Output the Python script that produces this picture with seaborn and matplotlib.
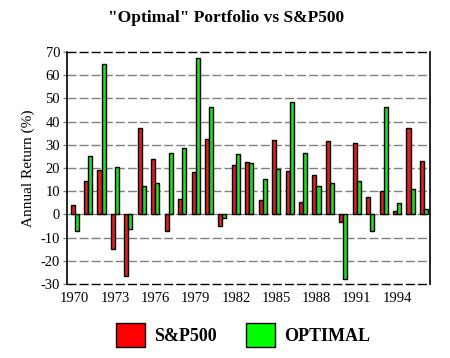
import matplotlib
matplotlib.use("Agg")
import matplotlib.pyplot as plt
import seaborn as sns
import pandas as pd
from matplotlib.patches import Patch

years = list(range(1970, 1997))
sp500 = [4.0, 14.3, 19.0, -14.7, -26.5, 37.2, 23.8, -7.2, 6.6, 18.4, 32.4, -4.9, 21.4, 22.5,
         6.3, 32.2, 18.5, 5.2, 16.8, 31.5, -3.2, 30.6, 7.7, 10.0, 1.3, 37.4, 23.1]
optimal = [-7.0, 25.2, 64.8, 20.4, -6.1, 12.2, 13.5, 26.5, 28.7, 67.4, 46.1, -1.7, 26.1, 22.2,
           15.2, 19.6, 48.3, 26.5, 12.2, 13.5, -27.8, 14.3, -7.0, 46.1, 4.8, 10.9, 2.2]
series_names = ["S&P500", "OPTIMAL"]
colors = ["#FF0000", "#00FF00"]
xtick_years = list(range(1970, 1995, 3))

df = pd.DataFrame({
    "year": years * 2,
    "value": sp500 + optimal,
    "series": [series_names[0]] * len(years) + [series_names[1]] * len(years),
})

sns.set_style("white")
plt.rcParams["font.family"] = ["Liberation Serif", "DejaVu Serif"]
plt.rcParams["text.color"] = "black"
plt.rcParams["axes.labelcolor"] = "black"
plt.rcParams["xtick.color"] = "black"
plt.rcParams["ytick.color"] = "black"

W, H = 450, 358
fig = plt.figure(figsize=(W / 100, H / 100), dpi=100)
ax = fig.add_axes([67 / W, 1 - 284 / H, (430 - 67) / W, (284 - 52) / H])

sns.barplot(data=df, x="year", y="value", hue="series", palette=colors,
            hue_order=series_names, edgecolor="black", linewidth=1.0,
            width=0.6, legend=False, ax=ax, zorder=3)

ax.set_ylim(-30, 70)
ax.set_xlim(-0.57, 26.45)
ax.set_yticks(range(-30, 71, 10))
ax.set_yticklabels([str(v) for v in range(-30, 71, 10)], fontsize=10.5)
ax.set_xticks([years.index(y) for y in xtick_years])
ax.set_xticklabels([str(y) for y in xtick_years], fontsize=10.5)
ax.tick_params(axis="x", length=0, pad=6, labelcolor="black")
ax.tick_params(axis="y", length=3, width=1, color="#808080", pad=2, left=True,
               labelcolor="black")

for v in range(-20, 70, 10):
    ax.axhline(v, color="#808080", lw=1.0, dashes=(6.5, 2.2), zorder=1)
for v in (-30, 70):
    ax.axhline(v, color="black", lw=1.0, dashes=(6.5, 2.2), zorder=4, clip_on=False)

for side in ("top", "bottom"):
    ax.spines[side].set_visible(False)
for side in ("left", "right"):
    ax.spines[side].set_color("black")
    ax.spines[side].set_linewidth(1.2)

ax.set_xlabel("")
ax.set_ylabel("Annual Return (%)", fontsize=11, labelpad=4, color="black")

fig.suptitle('"Optimal" Portfolio vs S&P500', fontsize=12.5, fontweight="bold",
             x=226 / W, y=1 - 10 / H, va="top", color="black")

handles = [Patch(facecolor=c, edgecolor="black", linewidth=1.0, label=n)
           for c, n in zip(colors, series_names)]
leg = fig.legend(handles=handles, loc="center", bbox_to_anchor=(243 / W, 1 - 335 / H),
                 ncol=2, frameon=False, prop={"weight": "bold", "size": 13},
                 handlelength=1.6, handleheight=1.6, handletextpad=0.5, columnspacing=1.6,
                 labelcolor="black")

fig.savefig("out.png", dpi=100)
